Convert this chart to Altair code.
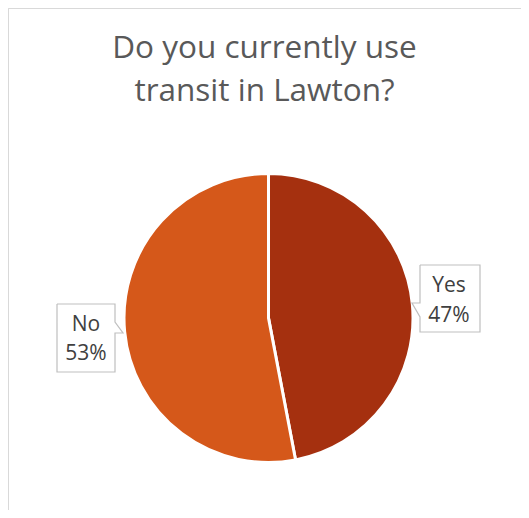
import altair as alt
import pandas as pd

# ---- data ----
categories = ["Yes", "No"]
values = [47, 53]
labels = ["47%", "53%"]
colors = ["#A5300F", "#D5581A"]
title_lines = ["Do you currently use", "transit in Lawton?"]

W, H = 513, 502
OFF = 8  # page margin

# layout constants (page coordinates -> chart coordinates)
cx, cy, R = 268.5 - OFF, 318 - OFF, 144.5

pie_df = pd.DataFrame({"cat": categories, "val": values, "order": [0, 1]})

pie = alt.Chart(pie_df).mark_arc(outerRadius=R, stroke="white", strokeWidth=3).encode(
    theta=alt.Theta("val:Q", stack=True),
    color=alt.Color("cat:N", scale=alt.Scale(domain=categories, range=colors), legend=None),
    order=alt.Order("order:Q"),
    x=alt.value(cx),
    y=alt.value(cy),
)

xs = alt.Scale(domain=[0, W], range=[0, W], nice=False, zero=False)
ys = alt.Scale(domain=[0, H], range=[0, H], nice=False, zero=False)

# callout outlines (page coords)
yes_shape = [(420, 265), (480, 265), (480, 332), (420, 332), (420, 317), (412, 303), (420, 303), (420, 265)]
no_shape = [(57, 304), (115, 304), (115, 322), (123, 333), (115, 333), (115, 372), (57, 372), (57, 304)]
rows = []
for name, shp in [("yes", yes_shape), ("no", no_shape)]:
    for i, (px, py) in enumerate(shp):
        rows.append({"g": name, "i": i, "x": px - OFF, "y": py - OFF})
box_df = pd.DataFrame(rows)

boxes = alt.Chart(box_df).mark_line(color="#BFBFBF", strokeWidth=1.2, strokeJoin="miter").encode(
    x=alt.X("x:Q", scale=xs, axis=None),
    y=alt.Y("y:Q", scale=ys, axis=None),
    detail="g:N",
    order="i:Q",
)

lab_rows = [
    {"t": categories[0], "x": 449 - OFF, "y": 292 - OFF},
    {"t": labels[0], "x": 449 - OFF, "y": 322 - OFF},
    {"t": categories[1], "x": 86 - OFF, "y": 331 - OFF},
    {"t": labels[1], "x": 86 - OFF, "y": 360 - OFF},
]
lab = alt.Chart(pd.DataFrame(lab_rows)).mark_text(
    font="Open Sans", fontSize=21, color="#404040", align="center", baseline="alphabetic"
).encode(
    x=alt.X("x:Q", scale=xs, axis=None),
    y=alt.Y("y:Q", scale=ys, axis=None),
    text="t:N",
)

title_df = pd.DataFrame({"t": title_lines, "x": [264.5 - OFF] * 2, "y": [58 - OFF, 101 - OFF]})
title = alt.Chart(title_df).mark_text(
    font="Open Sans", fontSize=31.5, color="#595959", align="center", baseline="alphabetic"
).encode(
    x=alt.X("x:Q", scale=xs, axis=None),
    y=alt.Y("y:Q", scale=ys, axis=None),
    text="t:N",
)

border_df = pd.DataFrame({"x": [0.5, 0.5, W], "y": [H, 0.5, 0.5], "i": [0, 1, 2]})
border = alt.Chart(border_df).mark_line(color="#D9D9D9", strokeWidth=1).encode(
    x=alt.X("x:Q", scale=xs, axis=None),
    y=alt.Y("y:Q", scale=ys, axis=None),
    order="i:Q",
)

chart = alt.layer(border, pie, boxes, lab, title).properties(
    width=W, height=H, padding=0, autosize=alt.AutoSizeParams(type="none")
).configure_view(stroke=None).configure(background="white")

chart.save("out.html", embed_options={"renderer": "svg", "actions": False})
